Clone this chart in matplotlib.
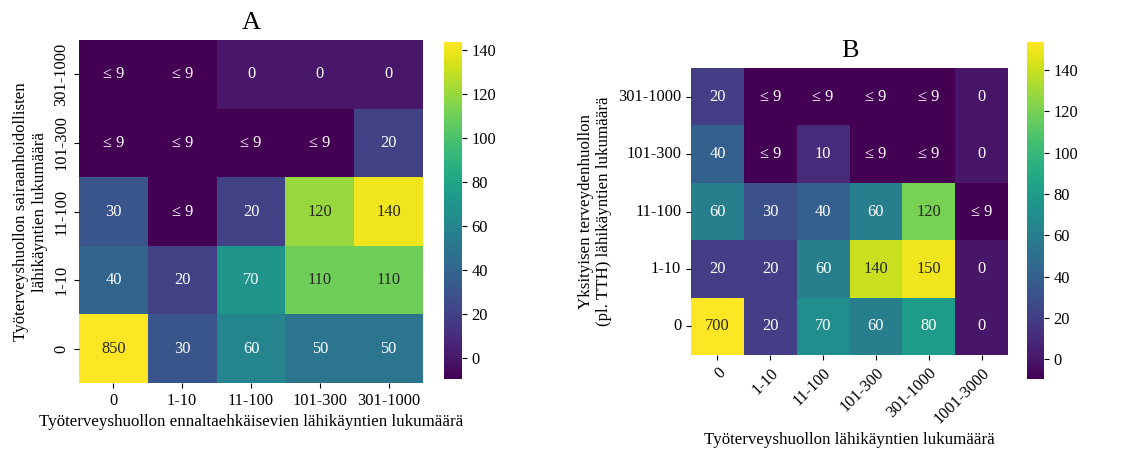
import numpy as np
import matplotlib
matplotlib.use("Agg")
import matplotlib.pyplot as plt
import seaborn as sns

plt.rcParams['font.family'] = ['Liberation Serif', 'DejaVu Serif']

SUPP = -10  # code for suppressed cells (shown as "≤ 9")

# Panel A
a_cols = ["0", "1-10", "11-100", "101-300", "301-1000"]
a_rows = ["301-1000", "101-300", "11-100", "1-10", "0"]
a_vals = [
    [SUPP, SUPP, 0, 0, 0],
    [SUPP, SUPP, SUPP, SUPP, 20],
    [30, SUPP, 20, 120, 140],
    [40, 20, 70, 110, 110],
    [850, 30, 60, 50, 50],
]
a_xlabel = "Työterveyshuollon ennaltaehkäisevien lähikäyntien lukumäärä"
a_ylabel = "Työterveyshuollon sairaanhoidollisten\nlähikäyntien lukumäärä"

# Panel B
b_cols = ["0", "1-10", "11-100", "101-300", "301-1000", "1001-3000"]
b_rows = ["301-1000", "101-300", "11-100", "1-10", "0"]
b_vals = [
    [20, SUPP, SUPP, SUPP, SUPP, 0],
    [40, SUPP, 10, SUPP, SUPP, 0],
    [60, 30, 40, 60, 120, SUPP],
    [20, 20, 60, 140, 150, 0],
    [700, 20, 70, 60, 80, 0],
]
b_xlabel = "Työterveyshuollon lähikäyntien lukumäärä"
b_ylabel = "Yksityisen terveydenhuollon\n(pl. TTH) lähikäyntien lukumäärä"


def labels(vals):
    return np.array([["≤ 9" if v == SUPP else str(v) for v in row] for row in vals])


W, H = 1128, 450
fig = plt.figure(figsize=(W / 100, H / 100), dpi=100)


def ax_rect(x0, y0, x1, y1):
    return [x0 / W, 1 - y1 / H, (x1 - x0) / W, (y1 - y0) / H]


fs = 11.8
lfs = 12.2

# Panel A
axA = fig.add_axes(ax_rect(79, 40, 423, 383))
caxA = fig.add_axes(ax_rect(444, 42, 462, 379))
sns.heatmap(np.array(a_vals), ax=axA, cbar_ax=caxA, cmap="viridis",
            vmin=-9.5, vmax=143.5, annot=labels(a_vals), fmt="",
            annot_kws={"fontsize": fs},
            xticklabels=a_cols, yticklabels=a_rows)
axA.set_title("A", fontsize=19, pad=8)
axA.set_xlabel(a_xlabel, fontsize=lfs)
axA.set_ylabel(a_ylabel, fontsize=lfs)
axA.tick_params(labelsize=fs)
plt.setp(axA.get_yticklabels(), rotation=90, va="center")
plt.setp(axA.get_xticklabels(), rotation=0)
caxA.tick_params(labelsize=fs)
caxA.set_yticks([0, 20, 40, 60, 80, 100, 120, 140])

# Panel B
axB = fig.add_axes(ax_rect(691, 68, 1008, 355))
caxB = fig.add_axes(ax_rect(1027, 42, 1044, 379))
sns.heatmap(np.array(b_vals), ax=axB, cbar_ax=caxB, cmap="viridis",
            vmin=-9.5, vmax=153.5, annot=labels(b_vals), fmt="",
            annot_kws={"fontsize": fs},
            xticklabels=b_cols, yticklabels=b_rows)
axB.set_title("B", fontsize=19, pad=8)
axB.set_xlabel(b_xlabel, fontsize=lfs, labelpad=4)
axB.set_ylabel(b_ylabel, fontsize=lfs)
axB.tick_params(labelsize=fs)
plt.setp(axB.get_yticklabels(), rotation=0)
plt.setp(axB.get_xticklabels(), rotation=45, ha="right", rotation_mode="anchor")
caxB.tick_params(labelsize=fs)
caxB.set_yticks([0, 20, 40, 60, 80, 100, 120, 140])

fig.savefig("out.png", dpi=100)
